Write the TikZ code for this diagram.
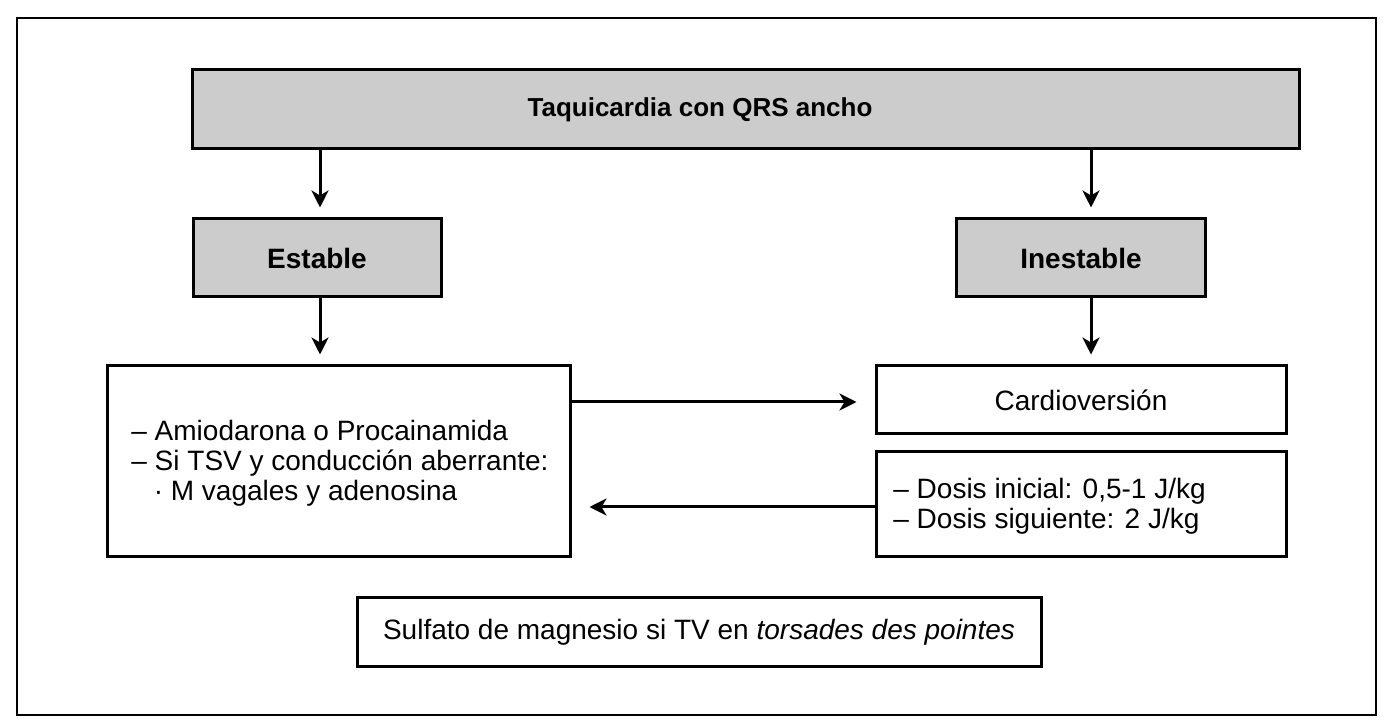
\documentclass[tikz,border=0pt]{standalone}
\usepackage{fontspec}
\setmainfont{Liberation Sans}
\usepackage{xcolor}
\usetikzlibrary{arrows.meta}
\definecolor{boxgray}{HTML}{CCCCCC}

\begin{document}
\begin{tikzpicture}[x=0.5pt,y=-0.5pt,
    box/.style={draw,line width=1.5pt,inner sep=0pt,font=\fontsize{14}{15}\selectfont},
    graybox/.style={box,fill=boxgray,font=\fontsize{14}{15}\selectfont\bfseries},
    arr/.style={-{Stealth[length=8.5pt,width=8.5pt,inset=2.5pt]},line width=1.5pt}]

   \useasboundingbox (0,0) rectangle (1392,726);
   \draw[line width=0.6pt] (17,18) rectangle (1376,715);

   %headers
   \node[graybox,minimum width=553.5pt,minimum height=39.5pt] (head) at (745.5,109.5) {};
   \node[font=\fontsize{13}{15}\selectfont\bfseries] (headtxt) at (700,109.5) {Taquicardia con QRS ancho};
   \node[graybox,minimum width=124pt,minimum height=39pt] (est) at (317,258) {Estable};
   \node[graybox,minimum width=124.5pt,minimum height=39pt] (inest) at (1081,258) {Inestable};

   %treatments
   \node[box,minimum width=231.5pt,minimum height=95.5pt] (trat) at (338.5,461.5) {};
   \node[anchor=west,align=left,inner sep=0pt,font=\fontsize{14}{15}\selectfont] (tratxt) at (131,463)
        {-- Amiodarona o Procainamida\\-- Si TSV y conducción aberrante:\\\hspace*{0.8em}· M vagales y adenosina};
   \node[box,minimum width=205pt,minimum height=34pt] (cardio) at (1081,400) {Cardioversión};
   \node[box,minimum width=205pt,minimum height=52.5pt] (dosis) at (1081,504.5) {};
   \node[anchor=west,align=left,inner sep=0pt,font=\fontsize{14}{15}\selectfont] (dostxt) at (893,506)
        {-- Dosis inicial: 0,5-1 J/kg\\-- Dosis siguiente: 2 J/kg};
   \node[box,minimum width=342pt,minimum height=34pt] (magn) at (699,632) {Sulfato de magnesio si TV en \textit{torsades des pointes}};

   %arrows
   \coordinate (a1) at (320,149);
   \coordinate (a2) at (1091,149);
   \draw[arr] (head.south -| a1) -- ([yshift=5pt]est.north -| a1);
   \draw[arr] (head.south -| a2) -- ([yshift=5pt]inest.north -| a2);
   \draw[arr] (est.south -| a1) -- ([yshift=5pt]trat.north -| a1);
   \draw[arr] (inest.south -| a2) -- ([yshift=5pt]cardio.north -| a2);
   \draw[arr] (trat.east |- 0,402) -- ([xshift=-9pt]cardio.west |- 0,402);
   \draw[arr] (dosis.west |- 0,507) -- ([xshift=9pt]trat.east |- 0,507);

\end{tikzpicture}
\end{document}
